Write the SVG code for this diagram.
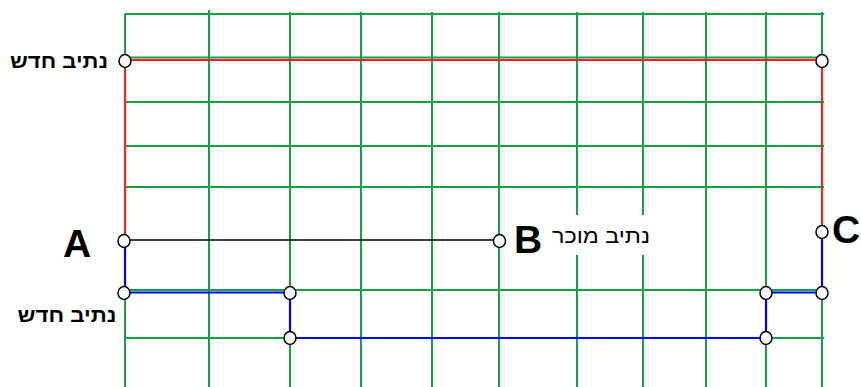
<svg xmlns="http://www.w3.org/2000/svg" width="861" height="387" viewBox="0 0 861 387">
<style>
.g{stroke:#14a046;stroke-width:2;fill:none}
.r{stroke:#ff2020;stroke-width:2.2;fill:none}
.b{stroke:#0000ff;stroke-width:2.2;fill:none}
.k{stroke:#000;stroke-width:1.5;fill:none}
.n{fill:#fff;stroke:#000;stroke-width:1.5}
.heb{font-family:"Liberation Sans","DejaVu Sans",sans-serif;font-size:20px;font-weight:bold;fill:#000;text-anchor:middle}
.big{font-family:"Liberation Sans","DejaVu Sans",sans-serif;font-size:39px;font-weight:bold;fill:#000;text-anchor:middle}
</style>
<rect width="861" height="387" fill="#fff"/>
<g id="grid" class="g">
<path d="M125 14V387M209 10V387M290 12V387M361 12V387M432 12V387M499 12V387M577 12V387M643 12V387M706 12V387M766 12V387M822 12V387"/>
<path d="M125 14H824M125 57.5H824M125 102H824M125 146H824M125 187H824M125 290H824M125 338H824"/>
</g>
<g id="label-bg"><rect x="549" y="215" width="104" height="40" fill="#fff"/></g>
<g id="connectors">
<path class="r" d="M125 240V60H822V232"/>
<path class="k" d="M125 240H499"/>
<path class="b" d="M125 240V292.5H290V338H766V292.5H822V232"/>
</g>
<g id="node-new-top"><ellipse class="n" cx="125" cy="61" rx="6" ry="6.5"/><ellipse class="n" cx="822" cy="61" rx="6" ry="6.5"/></g>
<g id="node-A"><ellipse class="n" cx="124" cy="241" rx="6" ry="6.5"/><text class="big" x="77" y="257">A</text></g>
<g id="node-B"><ellipse class="n" cx="499.5" cy="241" rx="6" ry="6.5"/><text class="big" x="528" y="253">B</text></g>
<g id="node-C"><ellipse class="n" cx="822" cy="232" rx="6" ry="6.5"/><text class="big" x="846" y="243">C</text></g>
<g id="node-blue"><ellipse class="n" cx="124" cy="293" rx="6" ry="6.5"/><ellipse class="n" cx="290" cy="293" rx="6" ry="6.5"/><ellipse class="n" cx="290" cy="338" rx="6" ry="6.5"/><ellipse class="n" cx="766" cy="338" rx="6" ry="6.5"/><ellipse class="n" cx="766" cy="293" rx="6" ry="6.5"/><ellipse class="n" cx="822" cy="293" rx="6" ry="6.5"/></g>
<g id="labels">
<text class="heb" x="59" y="68" textLength="98" lengthAdjust="spacingAndGlyphs">נתיב חדש</text>
<text class="heb" x="67" y="322" textLength="99" lengthAdjust="spacingAndGlyphs">נתיב חדש</text>
<text class="heb" x="601" y="243" textLength="98" lengthAdjust="spacingAndGlyphs" style="font-weight:normal">נתיב מוכר</text>
</g>
</svg>
